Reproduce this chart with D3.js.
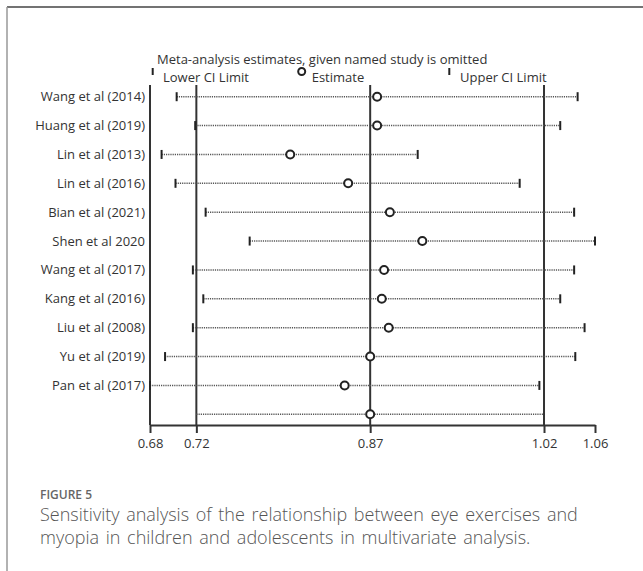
<!DOCTYPE html>
<html>
<head>
<meta charset="utf-8">
<script src="https://cdn.jsdelivr.net/npm/d3@7"></script>
<style>
  html, body { margin: 0; padding: 0; background: #fff; }
  svg { display: block; }
</style>
</head>
<body>
<script>
// Leave-one-out sensitivity analysis: pooled estimate with each study omitted
const studies = [
  "Wang et al (2014)", "Huang et al (2019)", "Lin et al (2013)", "Lin et al (2016)",
  "Bian et al (2021)", "Shen et al 2020", "Wang et al (2017)", "Kang et al (2016)",
  "Liu et al (2008)", "Yu et al (2019)", "Pan et al (2017)"
];
const estimates = [0.876, 0.876, 0.801, 0.851, 0.887, 0.915, 0.882, 0.880, 0.886, 0.870, 0.848];
const lowerCI   = [0.703, 0.719, 0.690, 0.702, 0.728, 0.766, 0.717, 0.726, 0.717, 0.693, 0.680];
const upperCI   = [1.049, 1.034, 0.911, 0.999, 1.046, 1.064, 1.046, 1.034, 1.055, 1.047, 1.016];

// Combined estimate from all studies
const overall = { estimate: 0.87, lower: 0.72, upper: 1.02 };

const W = 643, H = 571;
const svg = d3.select("body").append("svg").attr("width", W).attr("height", H);

// Card frame: rule along the top and left edges
svg.append("line").attr("x1", 7).attr("x2", 643).attr("y1", 7).attr("y2", 7)
  .attr("stroke", "#444").attr("stroke-width", 1.5);
svg.append("line").attr("x1", 7).attr("x2", 7).attr("y1", 7).attr("y2", H)
  .attr("stroke", "#999").attr("stroke-width", 1.5);

const labelFont = "'Open Sans', 'DejaVu Sans', sans-serif";

const xMin = d3.min(lowerCI), xMax = d3.max(upperCI);
const x = d3.scaleLinear().domain([xMin, xMax]).range([150, 595]);

const rows = studies.concat(["__overall__"]);
const y = d3.scalePoint().domain(rows).range([96.7, 414.3]);

const plotTop = 85, axisY = 425;
const tickValues = [xMin, overall.lower, overall.estimate, overall.upper, xMax];

const g = svg.append("g");

// Vertical reference lines at overall lower limit, estimate and upper limit
g.selectAll("line.ref").data([overall.lower, overall.estimate, overall.upper]).join("line")
  .attr("class", "ref")
  .attr("x1", d => x(d)).attr("x2", d => x(d))
  .attr("y1", plotTop).attr("y2", axisY)
  .attr("stroke", "#333").attr("stroke-width", 2);

// Left frame line
g.append("line").attr("x1", x(xMin)).attr("x2", x(xMin))
  .attr("y1", plotTop).attr("y2", axisY)
  .attr("stroke", "#333").attr("stroke-width", 2);

// Bottom axis
const axis = d3.axisBottom(x).tickValues(tickValues).tickFormat(d3.format(".2f"))
  .tickSizeInner(8).tickSizeOuter(0).tickPadding(6);
const ax = g.append("g").attr("transform", `translate(0,${axisY})`).call(axis);
ax.select(".domain").attr("stroke", "#333").attr("stroke-width", 2);
ax.selectAll(".tick line").attr("stroke", "#333").attr("stroke-width", 2);
ax.selectAll(".tick text").attr("font-family", labelFont).attr("font-size", 13)
  .attr("fill", "#333");

// Data rows
const data = studies.map((s, i) => ({ name: s, est: estimates[i], lo: lowerCI[i], hi: upperCI[i], overall: false }))
  .concat([{ name: "__overall__", est: overall.estimate, lo: overall.lower, hi: overall.upper, overall: true }]);

const row = g.selectAll("g.row").data(data).join("g")
  .attr("class", "row")
  .attr("transform", d => `translate(0,${y(d.name)})`);

row.append("line")
  .attr("x1", d => x(d.lo)).attr("x2", d => x(d.hi))
  .attr("stroke", "#555").attr("stroke-width", 1.6)
  .attr("stroke-dasharray", "1.2,1");

const capH = 4.5;
row.filter(d => !d.overall).each(function(d) {
  const r = d3.select(this);
  [d.lo, d.hi].forEach(v => {
    r.append("line").attr("x1", x(v)).attr("x2", x(v))
      .attr("y1", -capH).attr("y2", capH)
      .attr("stroke", "#222").attr("stroke-width", 2);
  });
});

row.append("circle")
  .attr("cx", d => x(d.est)).attr("r", 4)
  .attr("fill", "#fff").attr("stroke", "#222").attr("stroke-width", 2);

row.filter(d => !d.overall).append("text")
  .attr("x", 145).attr("dy", "0.35em")
  .attr("text-anchor", "end")
  .attr("font-family", labelFont).attr("font-size", 13)
  .attr("fill", "#333")
  .text(d => d.name);

// Legend
const leg = svg.append("g");
leg.append("text").attr("x", 157).attr("y", 64)
  .attr("font-family", labelFont).attr("font-size", 13).attr("fill", "#333")
  .text("Meta-analysis estimates, given named study is omitted");
leg.append("line").attr("x1", 152.7).attr("x2", 152.7).attr("y1", 68).attr("y2", 75)
  .attr("stroke", "#222").attr("stroke-width", 2);
leg.append("text").attr("x", 163).attr("y", 82)
  .attr("font-family", labelFont).attr("font-size", 13).attr("fill", "#333")
  .text("Lower CI Limit");
leg.append("circle").attr("cx", 301.7).attr("cy", 71.5).attr("r", 3.5)
  .attr("fill", "#fff").attr("stroke", "#222").attr("stroke-width", 2);
leg.append("text").attr("x", 311.7).attr("y", 82)
  .attr("font-family", labelFont).attr("font-size", 13).attr("fill", "#333")
  .text("Estimate");
leg.append("line").attr("x1", 449.3).attr("x2", 449.3).attr("y1", 68).attr("y2", 75)
  .attr("stroke", "#222").attr("stroke-width", 2);
leg.append("text").attr("x", 460).attr("y", 82)
  .attr("font-family", labelFont).attr("font-size", 13).attr("fill", "#333")
  .text("Upper CI Limit");

// Caption
const capFont = "'Open Sans', 'DejaVu Sans', sans-serif";
svg.append("text").attr("x", 40).attr("y", 499)
  .attr("font-family", capFont).attr("font-size", 12).attr("font-weight", 600)
  .attr("fill", "#666").text("FIGURE 5");
svg.append("text").attr("x", 40).attr("y", 521)
  .attr("font-family", capFont).attr("font-size", 18).attr("font-weight", 300)
  .attr("word-spacing", 2)
  .attr("fill", "#555").text("Sensitivity analysis of the relationship between eye exercises and");
svg.append("text").attr("x", 40).attr("y", 544)
  .attr("font-family", capFont).attr("font-size", 18).attr("font-weight", 300)
  .attr("word-spacing", 2)
  .attr("fill", "#555").text("myopia in children and adolescents in multivariate analysis.");
</script>
</body>
</html>
